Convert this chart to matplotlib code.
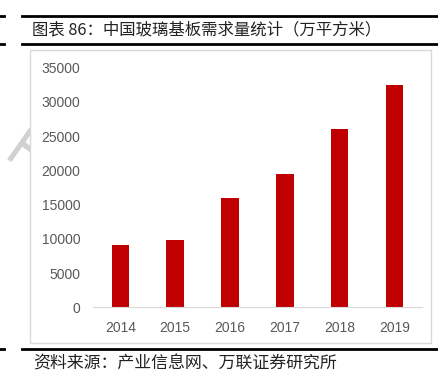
import matplotlib.pyplot as plt
import matplotlib.patches as patches
from matplotlib.lines import Line2D

years = ['2014', '2015', '2016', '2017', '2018', '2019']
demand = [9050, 9800, 16000, 19400, 26000, 32400]   # 万平方米

title_txt = '图表 86：中国玻璃基板需求量统计（万平方米）'
source_txt = '资料来源：产业信息网、万联证券研究所'

W, H = 438, 382
fig = plt.figure(figsize=(W / 100, H / 100), dpi=100, facecolor='white')

def fx(px):
    return px / W

def fy(py):
    return 1 - py / H

# watermark, mostly hidden behind the chart box
fig.text(fx(3), fy(200), '万联', fontsize=50, color='#d0d0d0', rotation=55,
         ha='left', va='bottom', family=['Noto Sans CJK SC', 'DejaVu Sans'], zorder=0)

# chart frame
box = patches.Rectangle((fx(30), fy(343)), fx(431) - fx(30), fy(50) - fy(343),
                        transform=fig.transFigure, facecolor='white',
                        edgecolor='#d9d9d9', linewidth=1, zorder=1)
fig.add_artist(box)

# black rules
for yy in (16, 44, 349):
    fig.add_artist(Line2D([fx(22), fx(438)], [fy(yy), fy(yy)], color='black', lw=2,
                          transform=fig.transFigure))
    fig.add_artist(Line2D([0, fx(4)], [fy(yy), fy(yy)], color='black', lw=2,
                          transform=fig.transFigure))

fig.text(fx(32), fy(30), title_txt, fontsize=11.8, va='center', ha='left', color='#222222',
         family=['Noto Sans CJK SC', 'DejaVu Sans'])
fig.text(fx(33), fy(363), source_txt, fontsize=12.2, va='center', ha='left', color='#222222',
         family=['Noto Sans CJK SC', 'DejaVu Sans'])

ax = fig.add_axes([fx(93), fy(307.3), fx(421.7) - fx(93), fy(67.7) - fy(307.3)])
ax.set_zorder(2)
ax.patch.set_alpha(0)
ax.bar(range(len(years)), demand, width=0.32, color='#C00000')
ax.set_xlim(-0.5, len(years) - 0.5)
ax.set_ylim(0, 35000)
ax.set_yticks(range(0, 35001, 5000))
ax.set_xticks(range(len(years)))
ax.set_xticklabels(years)
for s in ('top', 'right', 'left'):
    ax.spines[s].set_visible(False)
ax.spines['bottom'].set_color('#d9d9d9')
ax.tick_params(length=0, labelsize=10, labelcolor='#595959')
ax.tick_params(axis='y', pad=9)
ax.tick_params(axis='x', pad=10)
for lab in ax.get_xticklabels() + ax.get_yticklabels():
    lab.set_fontfamily('Liberation Sans')

fig.savefig('out.png', dpi=100, facecolor='white')
